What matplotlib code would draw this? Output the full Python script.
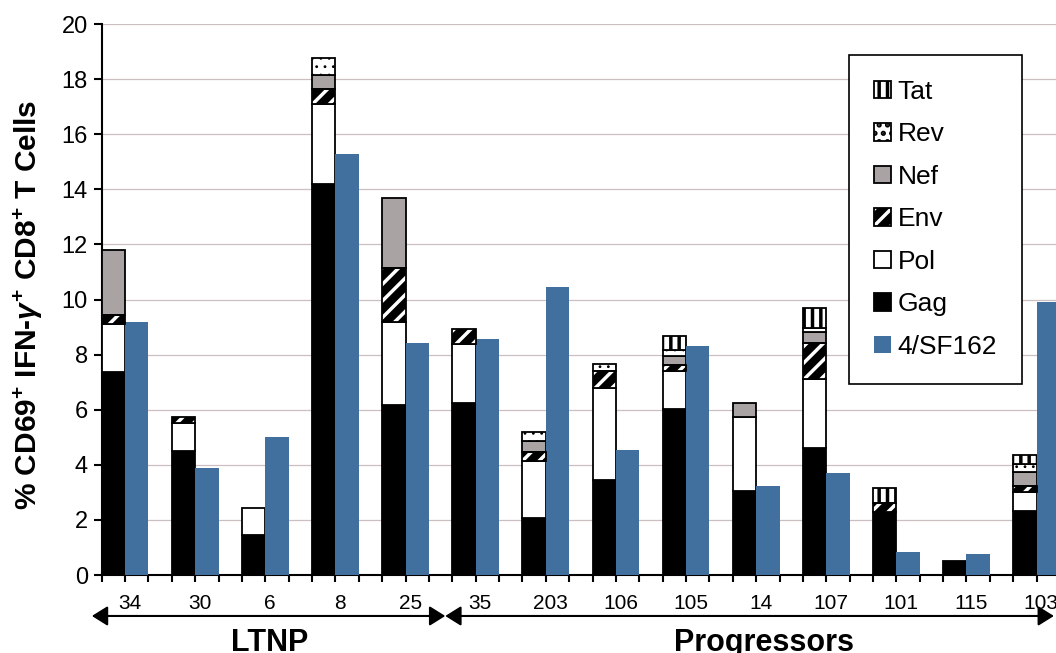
import numpy as np
import matplotlib
matplotlib.use("Agg")
import matplotlib.pyplot as plt

plt.rcParams['font.family'] = ['Liberation Sans', 'DejaVu Sans']
plt.rcParams['mathtext.fontset'] = 'custom'
plt.rcParams['mathtext.rm'] = 'Liberation Sans:bold'
plt.rcParams['mathtext.bf'] = 'Liberation Sans:bold'
plt.rcParams['mathtext.it'] = 'Liberation Sans:bold:italic'
plt.rcParams['hatch.linewidth'] = 2.5

# subjects
subjects = ['34', '30', '6', '8', '25', '35', '203', '106', '105', '14', '107', '101', '115', '103']

# peptide pool responses (segment heights, stacked Gag -> Tat)
gag = [7.36, 4.50, 1.45, 14.19, 6.17, 6.23, 2.06, 3.45, 6.02, 3.06, 4.62, 2.30, 0.51, 2.32]
pol = [1.76, 1.01, 0.97, 2.90, 3.03, 2.16, 2.08, 3.33, 1.40, 2.67, 2.50, 0.00, 0.00, 0.71]
env = [0.32, 0.23, 0.00, 0.55, 1.94, 0.54, 0.34, 0.64, 0.21, 0.00, 1.32, 0.30, 0.00, 0.20]
nef = [2.34, 0.00, 0.00, 0.50, 2.54, 0.00, 0.39, 0.00, 0.32, 0.50, 0.37, 0.00, 0.00, 0.52]
rev = [0.00, 0.00, 0.00, 0.62, 0.00, 0.00, 0.31, 0.23, 0.22, 0.00, 0.15, 0.00, 0.00, 0.28]
tat = [0.00, 0.00, 0.00, 0.00, 0.00, 0.00, 0.00, 0.00, 0.52, 0.00, 0.75, 0.55, 0.00, 0.33]

# whole-virus stimulation
sf162 = [9.18, 3.87, 5.00, 15.28, 8.41, 8.56, 10.45, 4.54, 8.33, 3.23, 3.72, 0.85, 0.77, 9.91]

n = len(subjects)
x = np.arange(n)
w = 1 / 3
blue = '#41709f'

fig = plt.figure(figsize=(10.56, 6.53), dpi=100)
ax = fig.add_axes([0.0963, 0.1194, 0.9037, 0.8438])

segs = [
    ('Gag', gag, dict(facecolor='black', edgecolor='black')),
    ('Pol', pol, dict(facecolor='white', edgecolor='black')),
    ('Env', env, None),
    ('Nef', nef, dict(facecolor='#a9a3a3', edgecolor='black')),
    ('Rev', rev, dict(facecolor='white', edgecolor='black', hatch='..')),
    ('Tat', tat, dict(facecolor='white', edgecolor='black', hatch='||')),
]

handles = {}
bottom = np.zeros(n)
for name, vals, style in segs:
    vals = np.asarray(vals)
    m = vals > 0
    xs = x[m] + w / 2
    if style is None:
        # black with white diagonal stripes, outlined in black
        b1 = ax.bar(xs, vals[m], w, bottom=bottom[m], facecolor='black',
                    edgecolor='white', hatch='//', linewidth=0, zorder=3)
        b2 = ax.bar(xs, vals[m], w, bottom=bottom[m], facecolor='none',
                    edgecolor='black', linewidth=1.3, zorder=4)
        handles[name] = (b1[0], b2[0])
    else:
        b = ax.bar(xs, vals[m], w, bottom=bottom[m], linewidth=1.3, zorder=3, **style)
        if name == 'Rev':
            # smaller dots for the Rev fill
            for p in b:
                if hasattr(p, 'set_hatch_linewidth'):
                    p.set_hatch_linewidth(0.8)
        handles[name] = b[0]
    bottom = bottom + vals

bb = ax.bar(x + 1.5 * w, sf162, w, color=blue, linewidth=0, zorder=3)
handles['4/SF162'] = bb[0]

ax.set_yticks(np.arange(0, 21, 2))
ax.yaxis.grid(True, color='#cbbfbf', linewidth=0.9)
ax.set_axisbelow(True)

for s in ['top', 'right']:
    ax.spines[s].set_visible(False)
for s in ['left', 'bottom']:
    ax.spines[s].set_linewidth(1.5)

ax.set_xticks(np.arange(0, 3 * n + 1) / 3)
ax.set_xticklabels([])
ax.set_xticks(x + 0.4, minor=True)
ax.set_xticklabels(subjects, minor=True)
ax.tick_params(axis='x', which='major', direction='out', length=5, width=1.5)
ax.tick_params(axis='x', which='minor', length=0, pad=14, labelsize=15)
ax.tick_params(axis='y', direction='out', length=6, width=1.5, pad=4, labelsize=17)
ax.set_xlim(0, 13.61)
ax.set_ylim(0, 20)

order = ['Tat', 'Rev', 'Nef', 'Env', 'Pol', 'Gag', '4/SF162']
leg = ax.legend([handles[k] for k in order], order, loc='upper left',
                bbox_to_anchor=(0.783, 0.944), borderaxespad=0, fontsize=19,
                handlelength=0.65, handleheight=0.65, labelspacing=0.70,
                borderpad=0.95, handletextpad=0.25, fancybox=False, framealpha=1)
leg.get_frame().set_edgecolor('black')
leg.get_frame().set_linewidth(1.2)

fig.text(0.0265, 0.533, r'% CD69$^{\mathbf{+}}$ IFN-$\mathit{\gamma}^{\mathbf{+}}$ CD8$^{\mathbf{+}}$ T Cells',
         rotation=90, ha='center', va='center', fontsize=21.5, fontweight='bold')

# group arrows under the axis
arrow_y = 0.0567
aprops = dict(arrowstyle='<|-|>,head_length=0.8,head_width=0.5', mutation_scale=12,
              color='black', lw=1.5, shrinkA=0, shrinkB=0)
ax.annotate('', xy=(-0.14, arrow_y), xytext=(4.90, arrow_y),
            xycoords=('data', 'figure fraction'), textcoords=('data', 'figure fraction'),
            arrowprops=aprops, annotation_clip=False)
ax.annotate('', xy=(4.90, arrow_y), xytext=(13.58, arrow_y),
            xycoords=('data', 'figure fraction'), textcoords=('data', 'figure fraction'),
            arrowprops=aprops, annotation_clip=False)
ax.annotate('LTNP', xy=(2.40, 0.039), xycoords=('data', 'figure fraction'),
            ha='center', va='top', fontsize=22, fontweight='bold', annotation_clip=False)
ax.annotate('Progressors', xy=(9.45, 0.039), xycoords=('data', 'figure fraction'),
            ha='center', va='top', fontsize=22, fontweight='bold', annotation_clip=False)

fig.savefig('out.png', dpi=100)
